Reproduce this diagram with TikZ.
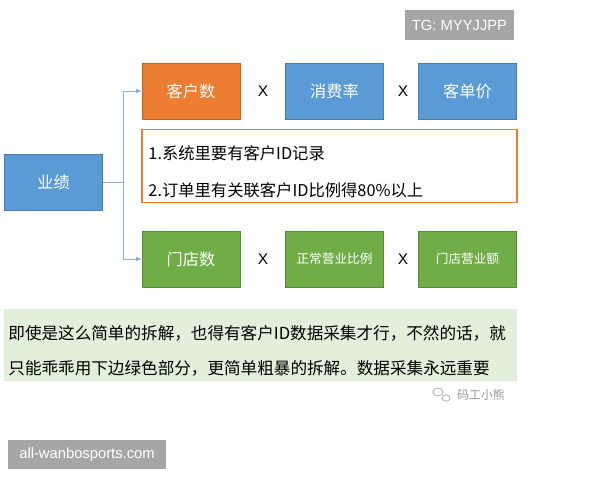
\documentclass[tikz,border=0pt]{standalone}
\usepackage{fontspec}
\setmainfont{Noto Sans CJK SC}
\newfontfamily\latinsans{Liberation Sans}
\usetikzlibrary{arrows.meta}
\usetikzlibrary{positioning}

\definecolor{kpiorange}{HTML}{ED7D31}
\definecolor{kpiblue}{HTML}{5B9BD5}
\definecolor{kpigreen}{HTML}{70AD47}
\definecolor{notegreen}{HTML}{E2EFDA}
\definecolor{tagggray}{HTML}{A6A6A6}
\definecolor{linkblue}{HTML}{8FAFD0}

\tikzset{
	factor/.style={draw=#1!80!black, fill=#1, line width=0.5pt, minimum width=2.45cm, minimum height=1.4cm, text=white, font=\fontsize{11.5}{13}\selectfont},
	timesign/.style={font=\latinsans\fontsize{11}{13}\selectfont},
	tagbox/.style={fill=tagggray, text=white, inner sep=0pt, font=\latinsans\fontsize{10.5}{12}\selectfont},
	link/.style={draw=linkblue, line width=0.7pt}
}

\begin{document}
\begin{tikzpicture}[x=0.025cm,y=-0.025cm]
		\useasboundingbox (0,0) rectangle (600,480);
		
		\node [tagbox, minimum width=2.725cm, minimum height=0.75cm] (tg) at (459.5,25) {TG: MYYJJPP};
		
		\node [factor=kpiblue] (yj) at (53.5,182) {业绩};
		
		\node [factor=kpiorange] (khs) at (191,91) {客户数};
		\node [timesign] (x1) at (263,91) {X};
		\node [factor=kpiblue] (xfl) at (334.5,91) {消费率};
		\node [timesign] (x2) at (403,91) {X};
		\node [factor=kpiblue] (kdj) at (467.5,91) {客单价};
		
		\node [draw=kpiorange, line width=0.8pt, fill=white, minimum width=9.375cm, minimum height=1.8cm, text width=9.05cm, align=left, font=\fontsize{11.6}{26}\selectfont] (req) at (329.5,166) {\rule{0pt}{18pt}1.系统里要有客户ID记录\\2.订单里有关联客户ID比例得80\%以上};
		
		\node [factor=kpigreen] (mds) at (191,259) {门店数};
		\node [timesign] (x3) at (263,259) {X};
		\node [factor=kpigreen, font=\fontsize{9}{11}\selectfont] (zcbl) at (334.5,259) {正常营业比例};
		\node [timesign] (x4) at (403,259) {X};
		\node [factor=kpigreen, font=\fontsize{9}{11}\selectfont] (mdye) at (467.5,259) {门店营业额};
		
		\coordinate (fork) at (123,182);
		\draw [link] (yj.east) -- (fork);
		\draw [link, -{Latex[length=4pt,width=3.5pt]}] (fork) |- (khs.west);
		\draw [link, -{Latex[length=4pt,width=3.5pt]}] (fork) |- (mds.west);
		
		\node [fill=notegreen, minimum width=12.825cm, minimum height=1.75cm, text width=12.6cm, align=left, font=\fontsize{11.8}{24.8}\selectfont] (note) at (260.5,345) {\rule{0pt}{18pt}即使是这么简单的拆解，也得有客户ID数据采集才行，不然的话，就\\只能乖乖用下边绿色部分，更简单粗暴的拆解。数据采集永远重要};
		
		\node [text=gray!80, font=\fontsize{8.5}{10}\selectfont] (sign) at (481,395) {码工小熊};
		\draw [gray!70, line width=0.5pt] (438,392) ellipse (5 and 4);
		\draw [gray!70, line width=0.5pt] (446,398) ellipse (4 and 3.2);
		
		\node [tagbox, minimum width=3.925cm, minimum height=0.725cm] (site) at (87,454.5) {all-wanbosports.com};
	\end{tikzpicture}
\end{document}
